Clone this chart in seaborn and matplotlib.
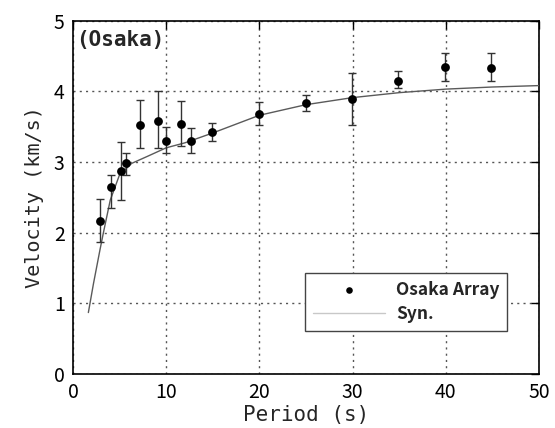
import numpy as np
import pandas as pd
import matplotlib
matplotlib.use("Agg")
import matplotlib.pyplot as plt
import seaborn as sns

# Observed group velocities (Osaka Array)
obs_period = [2.9, 4.1, 5.1, 5.7, 7.2, 9.1, 10.0, 11.6, 12.7, 14.9, 20.0, 25.0, 29.9, 34.9, 39.9, 44.9]
obs_velocity = [2.17, 2.64, 2.87, 2.98, 3.52, 3.58, 3.30, 3.54, 3.30, 3.42, 3.68, 3.84, 3.89, 4.15, 4.35, 4.33]
obs_err_low = [0.30, 0.29, 0.41, 0.16, 0.32, 0.38, 0.18, 0.31, 0.17, 0.12, 0.16, 0.12, 0.37, 0.11, 0.20, 0.19]
obs_err_high = [0.31, 0.17, 0.41, 0.15, 0.36, 0.42, 0.19, 0.32, 0.18, 0.13, 0.17, 0.10, 0.37, 0.13, 0.19, 0.21]

# Synthetic dispersion curve
syn_period = [1.65, 2.2, 2.9, 3.25, 4.0, 5.0, 6.3, 8.0, 10.0, 12.0, 15.0, 20.0, 25.0, 30.0, 35.0, 40.0, 45.0, 50.0]
syn_velocity = [0.87, 1.28, 1.76, 1.99, 2.46, 2.82, 2.98, 3.08, 3.20, 3.27, 3.41, 3.66, 3.81, 3.91, 3.98, 4.03, 4.06, 4.08]

x_ticks = [0, 10, 20, 30, 40, 50]
y_ticks = [0, 1, 2, 3, 4, 5]

sns.set_style("white")
plt.rcParams["font.family"] = ["Noto Sans CJK JP", "DejaVu Sans"]

obs = pd.DataFrame({"period": obs_period, "velocity": obs_velocity})
syn = pd.DataFrame({"period": syn_period, "velocity": syn_velocity})

fig = plt.figure(figsize=(5.55, 4.28), dpi=100)
ax = fig.add_axes([0.1315, 0.126, 0.8395, 0.826])

sns.lineplot(data=syn, x="period", y="velocity", ax=ax, color="#5a5a5a",
             linewidth=1.0, sort=False, estimator=None, label="Syn.", zorder=3)
ax.errorbar(obs_period, obs_velocity, yerr=[obs_err_low, obs_err_high],
            fmt="none", ecolor="#333333", elinewidth=1.0, capsize=3, capthick=1.0, zorder=4)
sns.scatterplot(data=obs, x="period", y="velocity", ax=ax, color="black",
                s=40, edgecolor="black", linewidth=0, label="Osaka Array", zorder=5)

ax.set_xlim(0, 50)
ax.set_ylim(0, 5)
ax.set_xticks(x_ticks)
ax.set_yticks(y_ticks)
ax.tick_params(axis="both", direction="in", length=6, width=1, labelsize=14,
               top=True, right=True, pad=6, colors="black")
ax.grid(True, linestyle=(0, (1.5, 3)), color="#555555", linewidth=1.0)
for sp in ax.spines.values():
    sp.set_color("black")
    sp.set_linewidth(1.2)

mono = ["DejaVu Sans Mono"]
ax.set_xlabel("Period (s)", fontsize=15, family=mono, labelpad=1)
ax.set_ylabel("Velocity (km/s)", fontsize=14.5, family=mono, labelpad=7)

ax.text(0.006, 0.972, "(Osaka)", transform=ax.transAxes, ha="left", va="top",
        fontsize=15, family=mono, fontweight="semibold")

handles, labels = ax.get_legend_handles_labels()
order = [labels.index("Osaka Array"), labels.index("Syn.")]
leg = ax.legend([handles[i] for i in order], [labels[i] for i in order],
                loc="lower right", bbox_to_anchor=(0.932, 0.123), borderaxespad=0,
                fontsize=12.5, frameon=True, fancybox=False, framealpha=1,
                edgecolor="#444444", borderpad=0.45, labelspacing=0.35,
                handlelength=4.2, handletextpad=0.6, markerscale=0.75)
leg.get_frame().set_linewidth(1.0)
for t in leg.get_texts():
    t.set_fontweight("bold")
leg.legend_handles[1].set_color("#c8c8c8")

fig.savefig("out.png", dpi=100)
